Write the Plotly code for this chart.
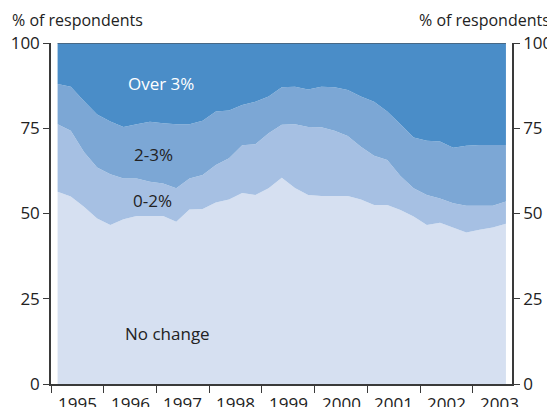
import plotly.graph_objects as go

# Quarterly survey periods, 1995 Q1 .. 2003 Q3
quarters = [f"{y} Q{q}" for y in range(1995, 2004) for q in range(1, 5)][:35]

# Shares of respondents (%) expecting each rate of change
no_change = [56.4, 55.0, 52.0, 48.5, 46.6, 48.3, 49.3, 49.3, 49.3, 47.6,
             51.2, 51.3, 53.2, 54.1, 56.0, 55.4, 57.4, 60.5, 57.5, 55.4,
             55.1, 55.1, 55.1, 54.1, 52.5, 52.5, 51.0, 49.1, 46.6, 47.3,
             45.9, 44.4, 45.2, 45.9, 47.0]
cum_0_2 = [76.2, 74.3, 68.0, 63.5, 61.5, 60.3, 60.3, 59.3, 58.8, 57.4,
           60.3, 61.3, 64.2, 66.2, 70.0, 70.3, 73.5, 76.0, 76.2, 75.4,
           75.3, 74.3, 72.7, 69.6, 66.9, 65.7, 61.0, 57.4, 55.4, 54.4,
           53.0, 52.3, 52.3, 52.3, 53.5]
cum_2_3 = [88.0, 87.2, 83.0, 79.0, 77.0, 75.4, 76.2, 76.9, 76.5, 76.2,
           76.2, 77.2, 79.9, 80.2, 81.8, 82.8, 84.3, 87.0, 87.2, 86.4,
           87.2, 87.0, 86.2, 84.3, 82.8, 79.9, 76.2, 72.3, 71.3, 71.1,
           69.3, 69.9, 70.1, 70.1, 70.1]
zero_two = [round(b - a, 1) for a, b in zip(no_change, cum_0_2)]
two_three = [round(b - a, 1) for a, b in zip(cum_0_2, cum_2_3)]
over_three = [round(100 - b, 1) for b in cum_2_3]

years = [1995, 1996, 1997, 1998, 1999, 2000, 2001, 2002, 2003]
y_ticks = [0, 25, 50, 75, 100]

x = [int(s[:4]) + (int(s[-1]) - 0.5) / 4 for s in quarters]

series = [
    ("No change", no_change, "#d6e0f1"),
    ("0-2%", zero_two, "#a6c0e3"),
    ("2-3%", two_three, "#7ca7d5"),
    ("Over 3%", over_three, "#4a8dc8"),
]

FONT = "Open Sans"
fig = go.Figure()
for name, vals, col in series:
    fig.add_trace(go.Scatter(x=x, y=vals, name=name, stackgroup="one",
                             mode="lines", line=dict(width=0, color=col),
                             fillcolor=col, hoverinfo="skip"))
# invisible trace to activate the right-hand axis
fig.add_trace(go.Scatter(x=[x[0]], y=[0], yaxis="y2", mode="markers",
                         marker=dict(opacity=0), showlegend=False, hoverinfo="skip"))

axis_col = "#3a3a3a"
# page body has an 8px default margin, so the figure is sized to fit inside
fig.update_layout(
    width=547, height=399,
    margin=dict(l=43, r=43, t=35, b=23, autoexpand=False),
    paper_bgcolor="white", plot_bgcolor="white",
    showlegend=False,
    font=dict(family=FONT, color="#222222", size=16),
    xaxis=dict(range=[1995, 2003.74], tickvals=years, showticklabels=False,
               ticks="outside", ticklen=7, tickwidth=1.2, tickcolor=axis_col,
               showline=True, linecolor=axis_col, linewidth=1.5,
               showgrid=False, zeroline=False, fixedrange=True,
               automargin=False),
    yaxis=dict(range=[0, 100], tickvals=y_ticks, ticks="outside", ticklen=6,
               tickwidth=1.2, tickcolor=axis_col, showline=True,
               linecolor=axis_col, linewidth=1.5, showgrid=False,
               zeroline=False, automargin=False,
               tickfont=dict(size=17, color="#222222")),
    yaxis2=dict(range=[0, 100], tickvals=y_ticks, overlaying="y", side="right",
                ticks="outside", ticklen=6, tickwidth=1.2, tickcolor=axis_col,
                showline=True, linecolor=axis_col, linewidth=1.5,
                showgrid=False, zeroline=False, automargin=False,
                tickfont=dict(size=17, color="#222222")),
)

fig.add_shape(type="line", xref="x", yref="y", x0=x[0], x1=x[-1], y0=100, y1=100,
              line=dict(color="#444444", width=1))

for yr in years:
    fig.add_annotation(x=yr + 0.5, y=-0.056, xref="x", yref="paper",
                       text=str(yr), showarrow=False, yanchor="middle",
                       font=dict(size=17, color="#222222"))

fig.add_annotation(x=-0.089, y=1.067, xref="paper", yref="paper",
                   text="% of respondents", showarrow=False, xanchor="left",
                   yanchor="middle", font=dict(size=16, color="#222222"))
fig.add_annotation(x=1.087, y=1.067, xref="paper", yref="paper",
                   text="% of respondents", showarrow=False, xanchor="right",
                   yanchor="middle", font=dict(size=16, color="#222222"))

labels = [("Over 3%", 1997.08, 88.1, "white"),
          ("2-3%", 1996.94, 67.4, "#222222"),
          ("0-2%", 1996.92, 53.8, "#222222"),
          ("No change", 1997.21, 14.7, "#222222")]
for t, lx, ly, c in labels:
    fig.add_annotation(x=lx, y=ly, xref="x", yref="y", text=t, showarrow=False,
                       font=dict(size=17, color=c))

fig.write_html("out.html")
